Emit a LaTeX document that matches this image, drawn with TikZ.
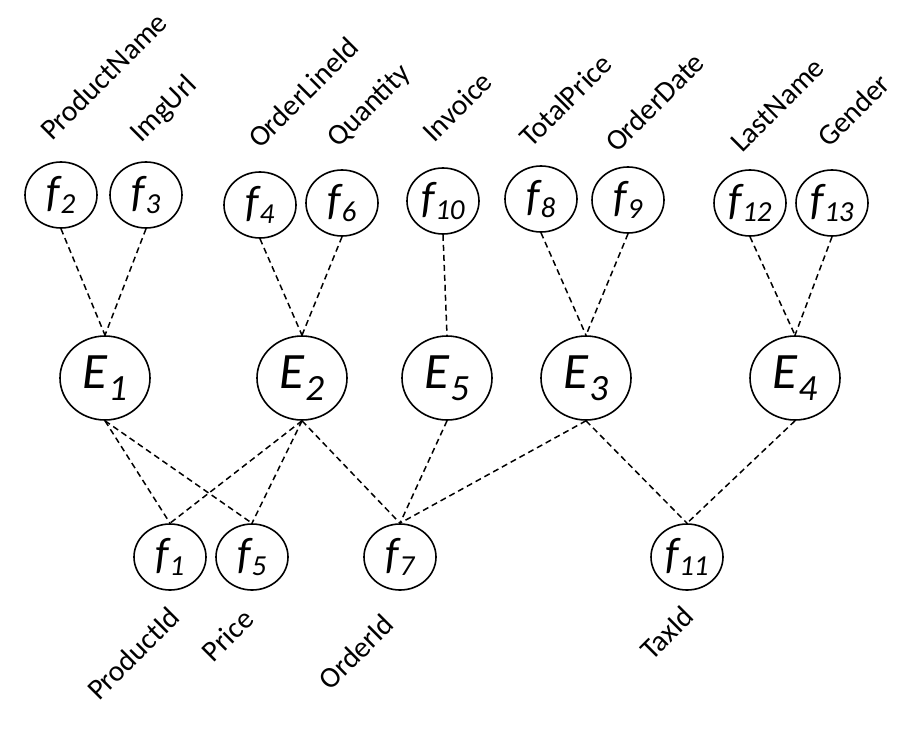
\documentclass[tikz,border=0pt]{standalone}
\usepackage{fontspec}
\setmainfont{Carlito}
\usetikzlibrary{shapes.geometric}
\newcommand{\fv}[1]{{\fontsize{44}{44}\selectfont\itshape f\kern0.5pt\raisebox{-7pt}{\fontsize{29}{29}\selectfont #1}}}
\newcommand{\ev}[1]{{\fontsize{51}{51}\selectfont\itshape E\kern0.5pt\raisebox{-12pt}{\fontsize{37}{37}\selectfont #1}}}
\tikzset{
  fnode/.style={draw, ellipse, line width=1.6pt, minimum width=72pt, minimum height=66pt, inner sep=0pt},
  enode/.style={draw, ellipse, line width=1.6pt, minimum width=90pt, minimum height=84pt, inner sep=0pt},
  link/.style={line width=1.5pt, dash pattern=on 6pt off 4pt},
  toplbl/.style={rotate=45, anchor=base west, inner sep=0pt, font=\fontsize{29.5}{29.5}\selectfont},
  botlbl/.style={rotate=45, anchor=base east, inner sep=0pt, font=\fontsize{29.5}{29.5}\selectfont}
}
\begin{document}
\begin{tikzpicture}[x=1pt,y=-1pt]
\useasboundingbox (0,0) rectangle (909,728);
% top attribute nodes
\node[fnode] (f2) at (61,195) {\fv{2}};
\node[fnode] (f3) at (146,195) {\fv{3}};
\node[fnode] (f4) at (260,205) {\fv{4}};
\node[fnode] (f6) at (342,203) {\fv{6}};
\node[fnode] (f10) at (443,201) {\fv{10}};
\node[fnode] (f8) at (541,199) {\fv{8}};
\node[fnode] (f9) at (628,200) {\fv{9}};
\node[fnode] (f12) at (750,203) {\fv{12}};
\node[fnode] (f13) at (832,203) {\fv{13}};
% entity nodes
\node[enode] (E1) at (105,378) {\ev{1}};
\node[enode] (E2) at (302,378) {\ev{2}};
\node[enode] (E5) at (447,378) {\ev{5}};
\node[enode] (E3) at (586,378) {\ev{3}};
\node[enode] (E4) at (795,378) {\ev{4}};
% bottom attribute nodes
\node[fnode] (f1) at (170,557) {\fv{1}};
\node[fnode] (f5) at (252,557) {\fv{5}};
\node[fnode] (f7) at (400,557) {\fv{7}};
\node[fnode] (f11) at (687,557) {\fv{11}};
% labels
\node[toplbl] (lProductName) at (52,142) {ProductName};
\node[toplbl] (lImgUrl) at (141,144) {ImgUrl};
\node[toplbl] (lOrderLineId) at (260,150) {OrderLineId};
\node[toplbl] (lQuantity) at (338,149) {Quantity};
\node[toplbl] (lInvoice) at (434,144) {Invoice};
\node[toplbl] (lTotalPrice) at (531,149) {TotalPrice};
\node[toplbl] (lOrderDate) at (617,154) {OrderDate};
\node[toplbl] (lLastName) at (742,154) {LastName};
\node[toplbl] (lGender) at (829,149) {Gender};
\node[botlbl] (lProductId) at (182,619) {ProductId};
\node[botlbl] (lPrice) at (256,621) {Price};
\node[botlbl] (lOrderId) at (396,626) {OrderId};
\node[botlbl] (lTaxId) at (696,618) {TaxId};
% links
\draw[link] (f2.south) -- (E1.north);
\draw[link] (f3.south) -- (E1.north);
\draw[link] (f4.south) -- (E2.north);
\draw[link] (f6.south) -- (E2.north);
\draw[link] (f10.south) -- (E5.north);
\draw[link] (f8.south) -- (E3.north);
\draw[link] (f9.south) -- (E3.north);
\draw[link] (f12.south) -- (E4.north);
\draw[link] (f13.south) -- (E4.north);
\draw[link] (E1.south) -- (f1.north);
\draw[link] (E1.south) -- (f5.north);
\draw[link] (E2.south) -- (f1.north);
\draw[link] (E2.south) -- (f5.north);
\draw[link] (E2.south) -- (f7.north);
\draw[link] (E5.south) -- (f7.north);
\draw[link] (E3.south) -- (f7.north);
\draw[link] (E3.south) -- (f11.north);
\draw[link] (E4.south) -- (f11.north);
\end{tikzpicture}
\end{document}
